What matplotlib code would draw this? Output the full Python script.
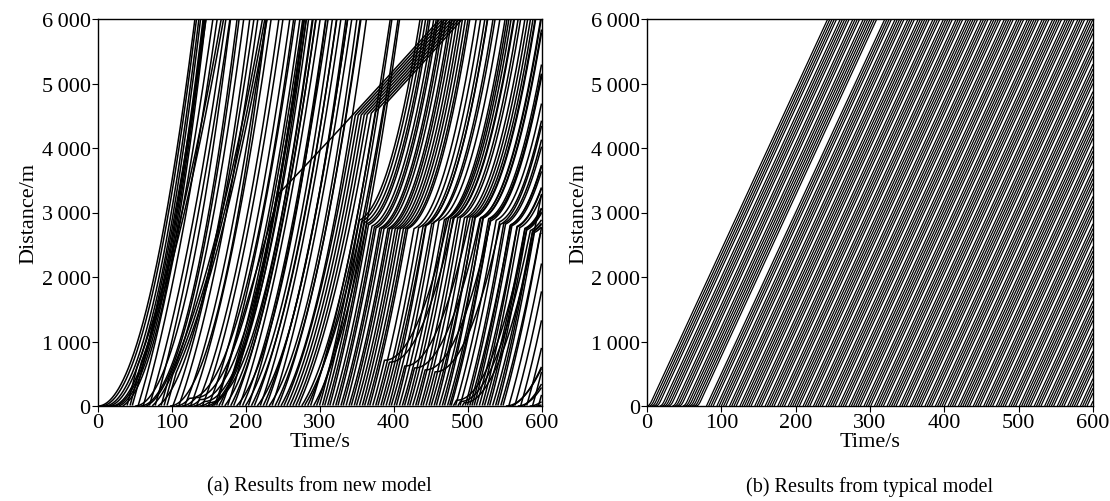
import numpy as np
import matplotlib
matplotlib.use("Agg")
import matplotlib.pyplot as plt
from matplotlib.ticker import FuncFormatter

# ================= data =================
# ---- (a) new model, vehicles grouped by entry period ----
# entry time [s], entry speed [m/s], acceleration [m/s^2], full-stop position [m], jam-band position [m]
g1_time = [1, 5, 10, 14, 19, 24, 29, 34]
g1_speed = [0, 0, 0, 0, 0, 2, 4, 6]
g1_accel = [0.70, 0.72, 0.74, 0.76, 0.78, 0.80, 0.82, 0.84]

g2_time = [40, 44, 47, 51, 55, 58, 62, 66, 70, 74, 78, 82, 86, 90, 94]
g2_speed = [42, 42, 40, 0, 38, 0, 40, 5, 36, 10, 40, 8, 40, 40, 40]
g2_accel = [0.30, 0.30, 0.40, 0.72, 0.42, 0.70, 0.40, 0.68, 0.42, 0.62, 0.38, 0.65, 0.30, 0.30, 0.30]

g3_time = [98, 102, 106, 110, 114, 118, 122, 126, 130, 134, 138, 142, 146, 150, 154, 158]
g3_speed = [0, 30, 0, 32, 0, 28, 0, 30, 0, 26, 0, 30, 0, 28, 5, 30]
g3_accel = [0.70, 0.45, 0.70, 0.45, 0.70, 0.48, 0.70, 0.46, 0.70, 0.50, 0.70, 0.46, 0.68, 0.48, 0.65, 0.45]
g3_stop = [0, 0, 120, 0, 130, 0, 100, 0, 70, 0, 50, 0, 0, 0, 0, 0]

g4_time = [161, 164, 168, 172, 176, 180, 184, 188, 192, 196, 200, 204, 208, 212, 216, 220, 224,
           228, 232, 236, 240, 244, 248, 252, 256, 260, 264, 268, 272, 276, 280, 284, 288, 292, 296]
g4_speed = [39, 20, 30, 15, 35, 22, 28, 12, 32, 25, 18, 34, 22, 28, 14, 32, 24,
            30, 16, 34, 22, 27, 20, 25, 25, 25, 25, 25, 32, 18, 28, 24, 34, 20, 30]
g4_accel = [0.0, 0.55, 0.45, 0.60, 0.40, 0.52, 0.46, 0.62, 0.42, 0.50, 0.56, 0.40, 0.52, 0.46, 0.60, 0.42, 0.50,
            0.44, 0.58, 0.40, 0.52, 0.47, 0.55, 0.45, 0.45, 0.45, 0.45, 0.45, 0.42, 0.56, 0.46, 0.50, 0.40,
            0.54, 0.44]

g5_time = [300, 304, 307, 311, 314, 318, 322, 325, 329, 332, 336, 340, 343, 347, 350, 354, 358, 361, 365, 368,
           372, 376, 379, 383, 386, 390, 394, 397, 401, 404, 408, 412, 415, 419, 422, 426, 430, 433, 437, 440,
           444, 448, 451, 455, 458, 462, 466, 469, 473, 476,
           478, 481, 484, 487, 490, 493,
           497, 500, 503, 506, 509, 512, 516, 520, 523, 527, 530, 534, 538, 541, 545]
g5_speed = [40, 42, 38, 40, 42, 38, 40, 42, 38, 40, 42, 38, 40, 42, 38, 40, 42, 38, 40, 42,
            40, 40, 40, 40, 38, 40, 42, 38, 40, 42, 40, 38, 40, 42, 40, 38, 40, 42, 40, 38,
            40, 42, 38, 40, 42, 38, 40, 42, 38, 40,
            40, 20, 40, 20, 40, 20,
            40, 42, 38, 40, 42, 38, 40, 42, 38, 40, 42, 38, 40, 42, 38]
g5_accel = [0.50, 0.45, 0.55] * 23 + [0.50, 0.45]
g5_stop = [0] * 20 + [710, 0, 680, 0] + [0] * 4 + \
          [620, 0, 0, 0, 590, 0, 0, 0, 560, 0, 0, 0, 530] + [0] * 9 + \
          [0, 90, 0, 70, 0, 50] + [0] * 15
g5_band = [2880, 2860, 2845, 2825, 2810, 2790, 2775, 2762, 2755, 2752, 2750, 2749, 2748, 2748, 2748, 2748,
           2748, 2749, 2749, 2750,
           2920, 2750, 2920, 2765,
           2785, 2795, 2810, 2825,
           2925, 2855, 2875, 2890, 2905, 2905, 2908, 2912, 2870, 2918, 2920, 2920, 2815,
           2923, 2924, 2925, 2925, 2920, 2915, 2912, 2905, 2900,
           2898, 2760, 2880, 2720, 2855, 0,
           2830, 2820, 2810, 2800, 2795, 2785, 2775, 2765, 2755, 2740, 2730, 2715, 2700, 2690, 2670]

g6_time = [548, 552, 556, 560, 564, 568, 572, 576, 580, 584, 588, 592, 596]
g6_speed = [40, 0, 40, 5, 40, 0, 40, 8, 40, 0, 40, 0, 40]
g6_accel = [0.50, 0.50, 0.45, 0.50, 0.50, 0.55, 0.50, 0.50, 0.45, 0.50, 0.55, 0.50, 0.50]

# followers (entry time of follower -> entry time of its leader)
follow_pairs = {40: 10, 44: 40, 86: 58, 90: 86, 94: 90,
                252: 161, 256: 252, 260: 256, 264: 260, 268: 264, 272: 268, 276: 272, 280: 276}
slow_vehicle_entry = 161
slow_from_pos, slow_speed = 3300.0, 12.0
stop_restart_accel = 0.6
band_restart_accel = 0.8
band_speed = 5.0
stop_wait = 1.0

# ---- (b) typical model: entry times [s] ----
entry_time_b = [0, 3, 6, 9, 12, 17, 20, 23, 26, 29, 34, 37, 40, 43, 48, 51, 54, 57, 60, 63, 66,
                80, 83, 86, 89, 94, 97, 100, 103, 106, 111, 114, 117, 120, 125, 128, 131, 134, 137, 140,
                145, 148, 151, 154, 159, 162, 165, 168, 171, 176, 179, 182, 185, 190, 193, 196, 199, 202,
                205, 210, 213, 216, 219, 224, 227, 230, 233, 236, 241, 244, 247, 250, 253, 258, 261, 264,
                267, 272, 275, 278, 281, 284, 287, 292, 295, 298, 301, 306, 309, 312, 315, 318, 323, 326,
                329, 332, 335, 340, 343, 346, 349, 354, 357, 360, 363, 366, 369, 374, 377, 380, 383, 388,
                391, 394, 397, 400, 405, 408, 411, 414, 419, 422, 425, 428, 431, 434, 439, 442, 445, 448,
                453, 456, 459, 462, 465, 470, 473, 476, 479, 482, 487, 490, 493, 496, 501, 504, 507, 510,
                513, 516, 521, 524, 527, 530, 535, 538, 541, 544, 547, 552, 555, 558, 561, 566, 569, 572,
                575, 578, 583, 586, 589, 592, 597]
cruise_speed_b = 25.0
startup_accel_b = 4.0
from_rest_until_b = 70

# ================= trajectories =================
entry_time_a = g1_time + g2_time + g3_time + g4_time + g5_time + g6_time
entry_speed_a = g1_speed + g2_speed + g3_speed + g4_speed + g5_speed + g6_speed
accel_a = g1_accel + g2_accel + g3_accel + g4_accel + g5_accel + g6_accel
stop_pos_a = [0] * len(g1_time + g2_time) + g3_stop + [0] * len(g4_time) + g5_stop + [0] * len(g6_time)
band_pos_a = [0] * len(g1_time + g2_time + g3_time + g4_time) + g5_band + [0] * len(g6_time)

dt = 0.2
t_grid = np.arange(0, 600 + dt, dt)
tau, jam_gap, vmax = 3.0, 10.0, 100.0


def simulate_a():
    n = len(entry_time_a)
    X = np.full((n, len(t_grid)), np.nan)
    idx_of = {t: i for i, t in enumerate(entry_time_a)}
    lag = int(round(tau / dt))
    for i in range(n):
        t0 = entry_time_a[i]
        x, v, acc = 0.0, float(entry_speed_a[i]), accel_a[i]
        stops = []
        if stop_pos_a[i] > 0:
            stops.append((stop_pos_a[i], "stop"))
        if band_pos_a[i] > 0:
            stops.append((band_pos_a[i], "band"))
        if t0 == slow_vehicle_entry:
            stops.append((slow_from_pos, "slow"))
        stops.sort()
        leader = idx_of.get(follow_pairs.get(t0, -1), -1)
        wait_until = -1
        for k, t in enumerate(t_grid):
            if t < t0:
                continue
            if t < wait_until:
                X[i, k] = x
                continue
            v_new = min(v + acc * dt, vmax)
            x_new = x + v_new * dt
            if stops and x_new >= stops[0][0]:
                pos, kind = stops.pop(0)
                x_new = max(pos, x)
                if kind == "stop":
                    v_new, acc, wait_until = 0.0, stop_restart_accel, t + stop_wait
                elif kind == "band":
                    v_new, acc = band_speed, band_restart_accel
                else:
                    v_new, acc = slow_speed, 0.004
            if leader >= 0:
                kl = k - lag
                lim = X[leader, kl] - jam_gap if kl >= 0 and not np.isnan(X[leader, kl]) else 0.0
                if x_new > lim:
                    x_new = max(x, lim)
                    v_new = (x_new - x) / dt
            x, v = x_new, v_new
            X[i, k] = x
    return X


def simulate_b():
    X = np.full((len(entry_time_b), len(t_grid)), np.nan)
    tc = cruise_speed_b / startup_accel_b
    for i, t0 in enumerate(entry_time_b):
        s = t_grid - t0
        if t0 < from_rest_until_b:
            x = np.where(s < tc, 0.5 * startup_accel_b * s ** 2,
                         0.5 * startup_accel_b * tc ** 2 + cruise_speed_b * (s - tc))
        else:
            x = cruise_speed_b * s
        X[i] = np.where(s < 0, np.nan, x)
    return X


Xa = simulate_a()
Xb = simulate_b()

# ================= drawing =================
plt.rcParams['font.family'] = ['Liberation Serif', 'DejaVu Serif']
fig = plt.figure(figsize=(11.10, 5.02), dpi=100)
ax1 = fig.add_axes([97.5 / 1110, 95 / 502, 444 / 1110, 387 / 502])
ax2 = fig.add_axes([647 / 1110, 95 / 502, 446 / 1110, 387 / 502])

fmt = FuncFormatter(lambda v, p: "0" if v == 0 else f"{int(v):,}".replace(",", "\u2009"))

for ax, X, cap, lw in ((ax1, Xa, "(a) Results from new model", 1.1),
                       (ax2, Xb, "(b) Results from typical model", 0.9)):
    for row in X:
        m = ~np.isnan(row)
        ax.plot(t_grid[m], row[m], color="black", lw=lw, solid_capstyle="butt")
    ax.set_xlim(0, 600)
    ax.set_ylim(0, 6000)
    ax.set_xticks([0, 100, 200, 300, 400, 500, 600])
    ax.set_yticks([0, 1000, 2000, 3000, 4000, 5000, 6000])
    ax.yaxis.set_major_formatter(fmt)
    ax.tick_params(direction="out", length=4, width=0.8, labelsize=16, pad=1)
    ax.set_xlabel("Time/s", fontsize=16, labelpad=0)
    ax.set_ylabel("Distance/m", fontsize=16, labelpad=2)
    for sp in ax.spines.values():
        sp.set_linewidth(1.0)
    bb = ax.get_position()
    fig.text((bb.x0 + bb.x1) / 2, 0.03, cap, ha="center", va="center", fontsize=14.5)

fig.savefig("out.png", dpi=100)
